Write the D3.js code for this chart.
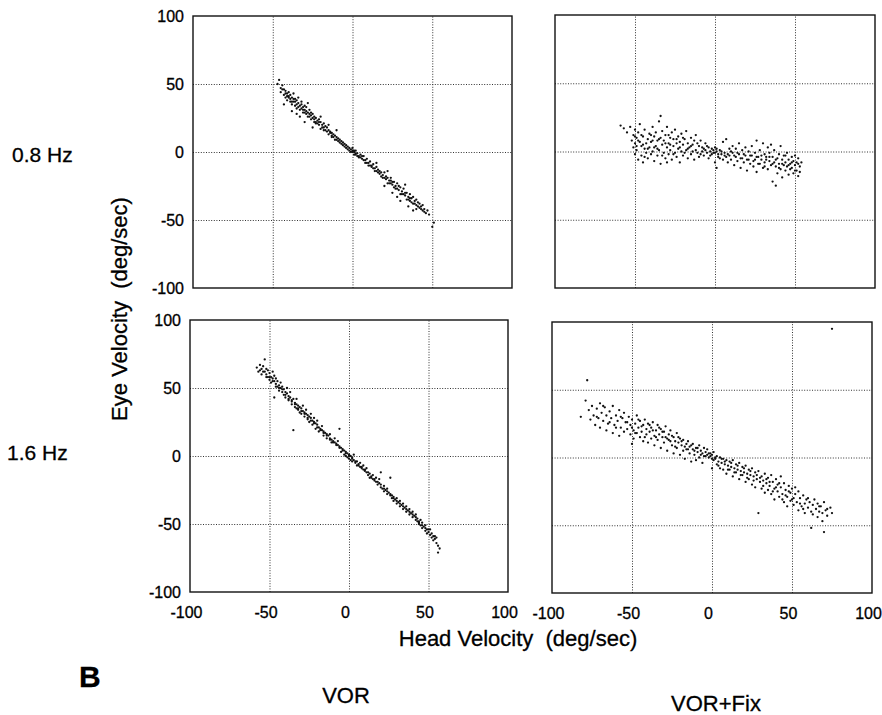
<!DOCTYPE html>
<html>
<head>
<meta charset="utf-8">
<script src="https://cdn.jsdelivr.net/npm/d3@7"></script>
<style>
  body { margin: 0; background: #fff; }
  svg text { font-family: "Liberation Sans", Arial, sans-serif; fill: #000; stroke: #000; stroke-width: 0.3px; }
  .grid line { stroke: #333; stroke-width: 1; stroke-dasharray: 1, 1.6; }
  .grid .domain { display: none; }
  .ticks .domain { display: none; }
  .ticks text { font-size: 16px; }
</style>
</head>
<body>
<div id="chart"></div>
<script>
// ticks shared by every panel
const tickValues = [-100, -50, 0, 50, 100];
const gridValues = [-50, 0, 50];
const rowLabels = ["0.8 Hz", "1.6 Hz"];
const colLabels = ["VOR", "VOR+Fix"];

// [head velocity, eye velocity] (deg/sec)
const vor08 = [[-47,50],[-46,53],[-45,47],[-45,44],[-44,49],[-43,46],[-43,42],[-43,35],[-42,45],[-42,40],[-41,43],[-41,38],[-40,44],[-40,41],[-39,37],[-39,42],[-38,40],[-38,35],[-38,30],[-37,39],[-37,43],[-36,37],[-36,34],[-35,38],[-35,32],[-35,28],[-34,36],[-34,40],[-33,34],[-33,31],[-33,26],[-32,35],[-32,37],[-31,33],[-31,29],[-30,31],[-30,34],[-30,22],[-29,30],[-29,33],[-28,29],[-28,26],[-28,36],[-27,31],[-27,28],[-26,27],[-26,24],[-25,28],[-25,25],[-25,18],[-24,22],[-24,26],[-23,25],[-23,21],[-22,23],[-21,24],[-21,20],[-20,22],[-20,17],[-20,26],[-19,20],[-18,21],[-18,18],[-17,16],[-17,19],[-16,18],[-15,16],[-15,13],[-15,20],[-14,15],[-13,14],[-13,11],[-12,13],[-11,12],[-11,9],[-10,11],[-10,16],[-9,10],[-9,8],[-8,9],[-7,8],[-7,6],[-6,7],[-5,6],[-5,4],[-4,5],[-3,4],[-3,2],[-2,3],[-1,2],[-1,0],[0,1],[0,3],[1,0],[1,-2],[2,-1],[2,1],[3,-1],[3,-3],[4,-3],[5,-4],[5,-2],[6,-5],[7,-6],[7,-3],[8,-6],[9,-8],[9,-5],[10,-8],[11,-10],[11,-7],[12,-10],[13,-12],[13,-9],[14,-12],[15,-14],[15,-11],[15,-8],[16,-13],[17,-16],[18,-15],[18,-18],[19,-17],[20,-19],[20,-15],[20,-25],[21,-20],[22,-19],[22,-23],[22,-14],[23,-21],[24,-23],[24,-19],[25,-24],[25,-30],[26,-22],[26,-26],[27,-25],[28,-27],[28,-23],[28,-33],[29,-28],[30,-26],[30,-31],[30,-36],[31,-29],[32,-31],[32,-27],[33,-32],[33,-24],[34,-30],[34,-35],[35,-33],[35,-40],[36,-31],[36,-36],[37,-34],[38,-38],[38,-33],[38,-43],[39,-36],[40,-39],[40,-35],[40,-42],[41,-37],[42,-41],[42,-38],[43,-40],[44,-43],[44,-39],[45,-42],[46,-45],[47,-43],[48,-46],[50,-55],[51,-52],
  [-44,46],[-42,43],[-40,40],[-39,39],[-37,37],[-36,39],[-35,35],[-34,33],[-32,32],[-31,31],[-29,28],[-27,26],[-26,29],[-24,24],[-23,22],[-22,21],[-21,22],[-19,18],[-18,16],[-16,15],[-14,14],[-13,12],[-12,11],[-10,9],[-8,7],[-6,5],[-4,3],[-2,1],[0,0],[1,1],[2,-2],[4,-4],[6,-3],[8,-8],[10,-10],[12,-11],[14,-14],[16,-15],[17,-14],[19,-19],[21,-18],[23,-23],[25,-22],[27,-27],[29,-25],[31,-31],[33,-30],[35,-35],[37,-37],[39,-38],[41,-40],[43,-42],[45,-44],[-38,37],[-41,41],[36,-34],[24,-21],[-30,29]];

const fix08 = [[-59,19],[-57,17],[-55,14],[-53,18],[-52,8],[-51,12],[-51,3],[-50,16],[-50,6],[-50,-2],[-49,10],[-49,1],[-48,14],[-48,-6],[-47,7],[-47,20],[-46,4],[-46,-3],[-45,11],[-45,-8],[-44,2],[-44,16],[-43,6],[-43,-1],[-42,9],[-42,-5],[-41,13],[-41,3],[-40,-2],[-40,7],[-39,18],[-39,0],[-38,11],[-38,-7],[-37,4],[-37,14],[-36,-3],[-36,8],[-35,1],[-35,22],[-34,26],[-34,10],[-34,-9],[-33,5],[-33,15],[-32,-1],[-32,8],[-31,12],[-31,-5],[-30,3],[-30,18],[-29,6],[-29,-2],[-28,10],[-28,1],[-27,14],[-27,-6],[-26,4],[-26,9],[-25,-1],[-25,16],[-24,6],[-24,-4],[-23,11],[-23,2],[-22,-8],[-22,7],[-21,13],[-21,0],[-20,5],[-20,-3],[-19,9],[-18,1],[-18,15],[-17,-5],[-17,6],[-16,3],[-15,10],[-15,-2],[-14,5],[-13,-6],[-13,8],[-12,1],[-12,12],[-11,-1],[-10,4],[-10,-4],[-9,8],[-8,0],[-8,3],[-7,-3],[-6,6],[-6,1],[-5,-1],[-4,3],[-4,-5],[-3,0],[-2,2],[-2,-2],[-1,1],[0,-1],[0,3],[0,-8],[1,0],[1,-12],[2,-2],[3,1],[3,-5],[4,-2],[5,7],[5,-6],[6,-1],[7,9],[7,-4],[8,-8],[9,2],[9,-3],[10,-6],[11,4],[11,-1],[12,-10],[13,-4],[13,2],[14,-7],[15,6],[15,-2],[16,-12],[17,-5],[17,1],[18,-8],[19,3],[19,-3],[20,-14],[21,-6],[21,0],[22,-9],[23,4],[23,-3],[24,-11],[25,-1],[25,-6],[26,8],[26,-15],[27,-4],[28,-9],[28,1],[29,-6],[30,6],[30,-12],[31,-2],[31,-8],[32,-4],[33,3],[33,-13],[34,-7],[34,-1],[35,-10],[35,5],[36,-4],[36,-22],[37,-8],[37,1],[38,-11],[38,-25],[39,-5],[39,-16],[40,-2],[40,-9],[41,-13],[41,4],[42,-6],[42,-19],[43,-10],[43,-3],[44,-8],[44,-14],[45,-1],[45,-11],[46,-6],[46,-17],[47,-9],[47,-13],[48,-4],[48,-12],[49,-7],[49,-16],[50,-10],[50,-3],[51,-14],[51,-8],[52,-5],[52,-18],[53,-11],[54,-8],
  [-50,11],[-49,4],[-48,8],[-46,12],[-44,-4],[-42,2],[-40,12],[-38,3],[-36,2],[-35,9],[-33,-3],[-31,6],[-30,-8],[-28,5],[-26,-2],[-24,9],[-22,3],[-20,10],[-19,-1],[-17,2],[-14,0],[-11,6],[-9,-2],[-7,2],[-5,4],[-3,-3],[-1,-1],[1,2],[2,-4],[4,0],[6,-3],[8,-2],[10,0],[12,-3],[14,-1],[16,-5],[18,-2],[20,-6],[22,-3],[24,-7],[26,-4],[27,-9],[29,-3],[31,-11],[32,-6],[34,-4],[36,-9],[38,-6],[40,-12],[42,-9],[44,-3],[46,-10],[48,-8],[50,-14],[52,-9],[53,-15],[-45,5],[-39,8],[-29,12],[-15,4]];

const vor16 = [[-58,65],[-57,62],[-56,67],[-55,64],[-55,60],[-54,66],[-53,71],[-53,62],[-52,60],[-52,64],[-51,58],[-51,63],[-50,61],[-50,56],[-49,58],[-49,54],[-48,57],[-48,62],[-47,55],[-47,43],[-46,53],[-46,57],[-45,51],[-45,55],[-44,52],[-44,48],[-43,50],[-43,54],[-42,47],[-42,51],[-41,49],[-41,45],[-40,47],[-40,43],[-39,46],[-39,50],[-38,44],[-38,41],[-37,43],[-37,47],[-36,41],[-36,38],[-35,42],[-35,19],[-34,39],[-34,36],[-33,38],[-33,42],[-32,37],[-32,34],[-31,36],[-31,32],[-30,35],[-30,31],[-29,33],[-29,37],[-28,32],[-28,29],[-27,31],[-27,34],[-26,30],[-26,27],[-25,29],[-25,25],[-24,28],[-24,31],[-23,26],[-23,23],[-22,25],[-22,28],[-21,24],[-21,20],[-20,23],[-20,26],[-19,21],[-19,18],[-18,20],[-17,19],[-17,22],[-16,18],[-16,15],[-15,17],[-14,16],[-14,13],[-13,15],[-12,13],[-12,16],[-11,12],[-11,10],[-10,11],[-9,10],[-9,13],[-8,9],[-7,8],[-7,11],[-6,20],[-6,7],[-5,6],[-5,3],[-4,5],[-3,4],[-3,1],[-2,3],[-2,0],[-1,2],[-1,-1],[0,1],[0,-2],[1,0],[1,-3],[2,-1],[2,-4],[3,-3],[3,1],[4,-5],[5,-4],[5,-7],[6,-6],[7,-8],[7,-5],[8,-9],[9,-10],[9,-7],[10,-11],[11,-12],[11,-9],[12,-14],[13,-13],[13,-16],[14,-15],[15,-17],[15,-14],[16,-18],[17,-19],[17,-16],[18,-21],[19,-20],[19,-17],[20,-23],[20,-12],[21,-24],[22,-22],[22,-26],[23,-25],[24,-28],[24,-24],[25,-27],[26,-29],[26,-16],[27,-31],[28,-30],[28,-33],[29,-32],[30,-35],[30,-31],[31,-34],[32,-37],[32,-33],[33,-36],[34,-39],[34,-35],[35,-38],[36,-41],[36,-37],[37,-40],[38,-43],[38,-39],[39,-42],[40,-45],[40,-41],[41,-44],[42,-47],[42,-43],[43,-46],[44,-50],[44,-48],[45,-51],[45,-47],[46,-53],[46,-49],[47,-52],[48,-55],[48,-51],[49,-54],[49,-57],[50,-56],[51,-58],[51,-54],[52,-60],[53,-59],[53,-62],[54,-61],[55,-64],[55,-60],[56,-66],[57,-68],[56,-71],
  [-56,63],[-54,62],[-52,58],[-50,58],[-48,55],[-46,51],[-44,50],[-42,49],[-40,45],[-38,42],[-36,40],[-34,38],[-32,35],[-30,33],[-28,31],[-26,28],[-24,26],[-22,24],[-20,21],[-18,19],[-16,17],[-14,15],[-12,12],[-10,10],[-8,8],[-6,6],[-4,4],[-2,2],[0,0],[2,-2],[4,-4],[6,-7],[8,-8],[10,-10],[12,-12],[14,-16],[16,-17],[18,-19],[20,-21],[22,-24],[24,-26],[26,-28],[28,-31],[30,-33],[32,-35],[34,-37],[36,-39],[38,-41],[40,-43],[42,-45],[44,-49],[46,-51],[48,-53],[50,-54],[52,-57],[54,-59],[-47,59],[-33,35],[27,-29],[43,-48]];

const fix16 = [[-82,30],[-79,42],[-78,57],[-77,35],[-76,28],[-75,38],[-74,31],[-73,24],[-72,36],[-71,29],[-70,40],[-70,22],[-69,33],[-68,27],[-67,37],[-66,20],[-66,31],[-65,25],[-64,34],[-63,29],[-62,18],[-62,38],[-61,24],[-60,31],[-59,27],[-58,16],[-58,35],[-57,22],[-56,29],[-55,19],[-55,33],[-54,26],[-53,21],[-52,30],[-51,17],[-51,24],[-50,10],[-50,28],[-49,20],[-49,14],[-48,25],[-47,18],[-47,31],[-46,22],[-45,15],[-45,27],[-44,19],[-43,12],[-43,24],[-42,28],[-41,17],[-41,21],[-40,11],[-40,25],[-39,19],[-38,14],[-38,22],[-37,26],[-36,16],[-36,9],[-35,20],[-34,13],[-34,24],[-33,17],[-32,21],[-32,7],[-31,15],[-30,19],[-30,11],[-29,23],[-28,14],[-28,5],[-27,17],[-26,12],[-26,20],[-25,9],[-24,15],[-24,3],[-23,12],[-22,18],[-22,7],[-21,11],[-20,14],[-20,2],[-19,9],[-18,13],[-18,5],[-17,-1],[-16,10],[-16,6],[-15,12],[-14,3],[-14,8],[-13,-3],[-12,6],[-12,10],[-11,2],[-10,7],[-10,-2],[-9,4],[-8,9],[-8,0],[-7,5],[-6,-4],[-6,3],[-5,7],[-5,1],[-4,4],[-3,2],[-3,6],[-2,3],[-2,0],[-1,1],[0,-1],[0,2],[0,-8],[1,-2],[1,4],[2,-1],[3,-5],[3,1],[4,-3],[5,-8],[5,0],[6,-4],[7,-1],[7,-9],[8,-5],[9,-2],[9,-12],[10,-6],[11,-3],[11,-9],[12,-7],[13,-14],[13,-2],[14,-8],[15,-5],[15,-11],[16,-9],[17,-16],[17,-4],[18,-10],[19,-7],[19,-13],[20,-11],[21,-18],[21,-6],[22,-12],[23,-9],[23,-16],[24,-13],[25,-20],[25,-8],[26,-14],[27,-11],[27,-22],[28,-16],[29,-41],[29,-10],[30,-18],[31,-14],[31,-23],[32,-17],[33,-12],[33,-26],[34,-19],[35,-15],[35,-24],[36,-21],[37,-27],[37,-13],[38,-18],[39,-23],[39,-31],[40,-16],[41,-25],[41,-20],[42,-29],[43,-22],[43,-14],[44,-27],[45,-19],[45,-33],[46,-24],[47,-29],[47,-36],[48,-21],[49,-26],[49,-32],[50,-23],[51,-30],[51,-35],[52,-27],[53,-33],[54,-25],[54,-39],[55,-30],[56,-36],[57,-28],[58,-34],[58,-41],[59,-31],[60,-37],[61,-33],[62,-52],[62,-40],[63,-35],[64,-31],[65,-38],[66,-44],[66,-34],[67,-40],[68,-36],[69,-47],[70,-55],[70,-33],[71,-39],[72,-43],[74,-37],[75,-41],[75,95],
  [-72,30],[-68,38],[-64,26],[-60,22],[-57,30],[-53,26],[-50,22],[-48,18],[-46,28],[-44,23],[-42,15],[-39,24],[-37,20],[-35,15],[-33,22],[-31,19],[-29,15],[-27,13],[-25,16],[-23,8],[-21,15],[-19,12],[-17,8],[-15,6],[-13,9],[-11,5],[-9,7],[-7,2],[-4,1],[-1,3],[2,0],[4,-6],[6,-1],[8,-3],[10,-9],[12,-4],[14,-11],[16,-6],[18,-13],[20,-8],[22,-15],[24,-10],[26,-17],[28,-13],[30,-15],[32,-21],[34,-16],[36,-18],[38,-25],[40,-22],[42,-19],[44,-31],[46,-28],[48,-25],[50,-31],[52,-22],[55,-34],[57,-38],[60,-30],[63,-42],[67,-36],[69,-41],[72,-38]];

class ScatterPanel {

    constructor(svg, data, box, showX, showY) {
        this.svg = svg;
        this.data = data;
        this.box = box;
        this.showX = showX;
        this.showY = showY;

        this.initVis();
    }

    initVis() {
        let vis = this;

        vis.g = vis.svg.append("g")
            .attr("transform", `translate(${vis.box.x}, ${vis.box.y})`);

        vis.x = d3.scaleLinear().domain([-100, 100]).range([0, vis.box.w]);
        vis.y = d3.scaleLinear().domain([-100, 100]).range([vis.box.h, 0]);

        // dotted grid lines at +-50 and 0
        vis.g.append("g")
            .attr("class", "grid")
            .attr("transform", `translate(0, ${vis.box.h})`)
            .call(d3.axisBottom(vis.x).tickValues(gridValues).tickSize(-vis.box.h).tickFormat(""));

        vis.g.append("g")
            .attr("class", "grid")
            .call(d3.axisLeft(vis.y).tickValues(gridValues).tickSize(-vis.box.w).tickFormat(""));

        vis.g.append("rect")
            .attr("width", vis.box.w)
            .attr("height", vis.box.h)
            .attr("fill", "none")
            .attr("stroke", "#111")
            .attr("stroke-width", 1.4);

        // plain hyphen for negatives, like the original figure
        let fmt = d => String(d);

        if (vis.showY) {
            vis.g.append("g")
                .attr("class", "ticks")
                .call(d3.axisLeft(vis.y).tickValues(tickValues).tickSize(0).tickPadding(9).tickFormat(fmt));
        }
        if (vis.showX) {
            // labels sit a few px left of the grid lines in the scan
            vis.g.append("g")
                .attr("class", "ticks")
                .attr("transform", `translate(-4, ${vis.box.h})`)
                .call(d3.axisBottom(vis.x).tickValues(tickValues).tickSize(0).tickPadding(15).tickFormat(fmt));
        }

        vis.updateVis();
    }

    updateVis() {
        let vis = this;

        vis.g.selectAll(".dot")
            .data(vis.data)
            .enter().append("circle")
            .attr("class", "dot")
            .attr("cx", d => vis.x(d[0]))
            .attr("cy", d => vis.y(d[1]))
            .attr("r", 1.15)
            .attr("fill", "#111");
    }
}

const svg = d3.select("#chart").append("svg")
    .attr("width", 882)
    .attr("height", 715);

new ScatterPanel(svg, vor08, {x: 193, y: 16, w: 319, h: 272}, false, true);
new ScatterPanel(svg, fix08, {x: 555, y: 15, w: 320, h: 273}, false, false);
new ScatterPanel(svg, vor16, {x: 190, y: 320, w: 318, h: 272}, true, true);
new ScatterPanel(svg, fix16, {x: 552, y: 322, w: 320, h: 271}, true, false);

// row labels
svg.selectAll(".row-label")
    .data(rowLabels)
    .enter().append("text")
    .attr("class", "row-label")
    .attr("x", (d, i) => i === 0 ? 12 : 7)
    .attr("y", (d, i) => i === 0 ? 162 : 460)
    .style("font-size", "21px")
    .text(d => d);

svg.append("text")
    .attr("transform", "translate(127, 309) rotate(-90)")
    .attr("text-anchor", "middle")
    .style("font-size", "22px")
    .style("white-space", "pre")
    .text("Eye Velocity  (deg/sec)");

svg.append("text")
    .attr("x", 518)
    .attr("y", 646)
    .attr("text-anchor", "middle")
    .style("font-size", "22px")
    .style("white-space", "pre")
    .text("Head Velocity  (deg/sec)");

svg.append("text")
    .attr("x", 79)
    .attr("y", 687)
    .style("font-size", "30px")
    .style("font-weight", "bold")
    .text("B");

// column labels under the panels
svg.selectAll(".col-label")
    .data(colLabels)
    .enter().append("text")
    .attr("class", "col-label")
    .attr("x", (d, i) => i === 0 ? 346 : 716)
    .attr("y", (d, i) => i === 0 ? 703 : 711)
    .attr("text-anchor", "middle")
    .style("font-size", "22px")
    .text(d => d);
</script>
</body>
</html>
